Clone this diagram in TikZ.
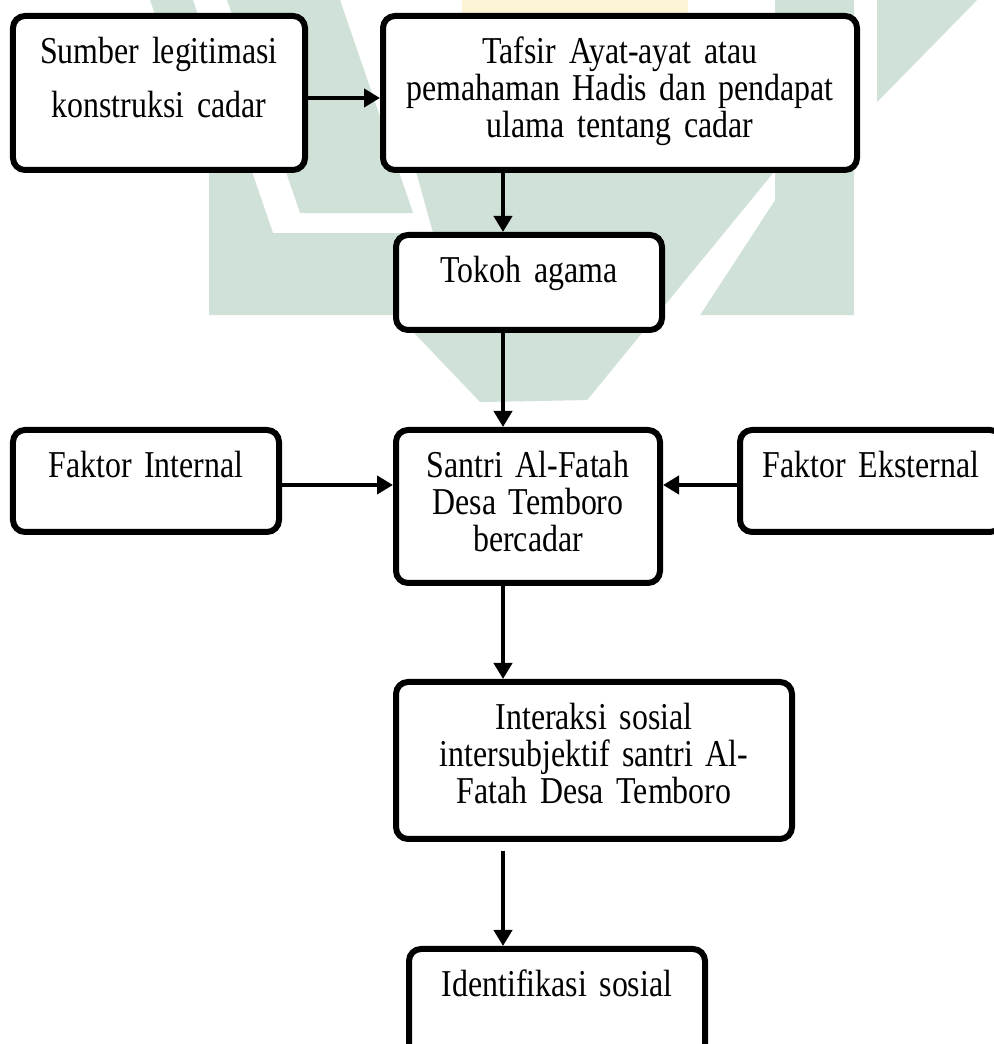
\documentclass[tikz,border=0pt]{standalone}
\usepackage{fontspec}
\setmainfont{Liberation Serif}[FakeStretch=0.84]
\usetikzlibrary{arrows.meta, positioning, calc, backgrounds}
\definecolor{markgreen}{HTML}{D0E1D7}
\definecolor{markyellow}{HTML}{FCF4D4}
% condensed serif for box labels, with a tighter word space
\newcommand{\stagefont}[1]{\fontsize{21.6pt}{#1}\selectfont
    \spaceskip=4.6pt plus 1pt minus 1pt\relax}

\begin{document}
\begin{tikzpicture}[x=1cm, y=1cm,
    % Stage boxes: thick rounded rectangles, text set from the top.
    stage/.style={rectangle, draw=black, fill=white, line width=0.12cm,
                  rounded corners=0.24cm, anchor=north, align=center,
                  inner xsep=0.2cm, inner ysep=0pt, text height=0.96cm,
                  font=\stagefont{20.8pt}},
    % Flow arrows between stages.
    flow/.style={-{Triangle[length=0.32cm, width=0.36cm]}, line width=0.08cm}
]
    \useasboundingbox (0,0) rectangle (19.86,20.88);

    % === Faint watermark behind the chart (pixel grid, y down) ===
    \begin{scope}[x=0.02cm, y=-0.02cm, yshift=20.88cm]
        \fill[markyellow] (462,0) rectangle (688,60);
        \fill[markgreen] (227,0) -- (340,0) -- (413,213) -- (300,213) -- cycle;
        \fill[markgreen] (150,0) -- (193,0) -- (273,233) -- (433,233)
            -- (385,60) -- (800,60) -- (773,173) -- (587,400) -- (480,402)
            -- (397,315) -- (209,315) -- (209,173) -- cycle;
        \fill[markgreen] (775,0) -- (854,0) -- (854,315) -- (700,315)
            -- (775,200) -- cycle;
        \fill[markgreen] (877,0) -- (977,0) -- (877,102) -- cycle;
    \end{scope}

    % === Row 1: source and interpretation ===
    \node[stage, minimum width=5.84cm, text width=5.44cm, text depth=2.12cm,
          font=\stagefont{30.7pt}]
        (sumber) at (3.18, 20.62) {Sumber legitimasi\\konstruksi cadar};
    \node[stage, minimum width=9.48cm, text width=9.08cm, text depth=2.12cm]
        (tafsir) at (12.40, 20.62)
        {Tafsir Ayat-ayat atau\\pemahaman Hadis dan pendapat\\ulama tentang cadar};

    % === Row 2: religious figure ===
    \node[stage, minimum width=5.32cm, text width=4.92cm, text depth=0.94cm]
        (tokoh) at (10.58, 16.24) {Tokoh agama};

    % === Row 3: santri with internal and external factors ===
    \node[stage, minimum width=5.32cm, text width=4.92cm, text depth=1.08cm]
        (internal) at (2.92, 12.34) {Faktor Internal};
    \node[stage, minimum width=5.28cm, text width=4.88cm, text depth=2.10cm]
        (santri) at (10.56, 12.34) {Santri Al-Fatah\\Desa Temboro\\bercadar};
    \node[stage, minimum width=5.24cm, text width=4.84cm, text depth=1.08cm]
        (eksternal) at (17.42, 12.34) {Faktor Eksternal};

    % === Row 4 and 5: interaction and identification ===
    \node[stage, minimum width=7.92cm, text width=7.52cm, text depth=2.18cm]
        (interaksi) at (11.88, 7.30)
        {Interaksi sosial\\intersubjektif santri Al-\\Fatah Desa Temboro};
    \node[stage, minimum width=5.92cm, text width=5.52cm, text depth=1.22cm]
        (identifikasi) at (11.14, 1.96) {Identifikasi sosial};

    % vertical arrows all run on one line, left of the box centres
    \coordinate (spine) at (10.06, 0);
    % side arrows enter the santri box at the height of the factor boxes
    \coordinate (inflow) at ([yshift=-0.08cm]internal.east);
    \coordinate (exflow) at ([yshift=-0.08cm]eksternal.west);

    \draw[flow] ([yshift=-0.1cm]sumber.east) -- ([yshift=-0.1cm]tafsir.west);
    \draw[flow] (tafsir.south -| spine) -- (tokoh.north -| spine);
    \draw[flow] (tokoh.south -| spine) -- (santri.north -| spine);
    \draw[flow] (inflow) -- (inflow -| santri.west);
    \draw[flow] (exflow) -- (exflow -| santri.east);
    \draw[flow] (santri.south -| spine) -- (interaksi.north -| spine);
    \draw[flow, shorten <=0.18cm] (interaksi.south -| spine) -- (identifikasi.north -| spine);

\end{tikzpicture}
\end{document}
